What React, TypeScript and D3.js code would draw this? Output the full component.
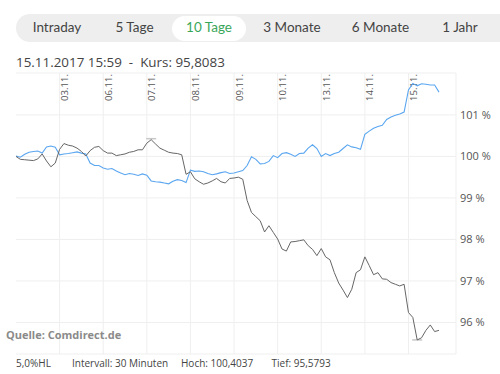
import React from "react";
import * as d3 from "d3";

const tabs = ["Intraday", "5 Tage", "10 Tage", "3 Monate", "6 Monate", "1 Jahr"];
const activeTab = "10 Tage";
const title = "15.11.2017 15:59  -  Kurs: 95,8083";
const dayLabels = ["02.11.", "03.11.", "06.11.", "07.11.", "08.11.", "09.11.", "10.11.", "13.11.", "14.11.", "15.11."];
const yTicks = [96, 97, 98, 99, 100, 101];
const stepDays = 0.1; // sample spacing in trading days
const footer = ["5,0%HL", "Intervall: 30 Minuten", "Hoch: 100,4037", "Tief: 95,5793"];
const source = "Quelle: Comdirect.de";

// comparison (blue), in % of start
const indexValues = [
  100.01, 99.98, 100.05, 100.10, 100.12, 100.13, 100.08, 100.23, 100.25, 100.22,
  100.04, 100.06, 100.07, 100.09, 100.11, 100.08, 100.06, 99.84, 99.78, 99.78,
  99.72, 99.69, 99.71, 99.65, 99.60, 99.56, 99.59, 99.57, 99.54, 99.58,
  99.55, 99.41, 99.39, 99.38, 99.36, 99.34, 99.40, 99.44, 99.42, 99.37,
  99.67, 99.64, 99.65, 99.63, 99.59, 99.56, 99.58, 99.61, 99.63, 99.59,
  99.60, 99.63, 99.66, 99.78, 99.99, 99.93, 99.82, 99.83, 99.88, 100.02,
  99.97, 100.07, 100.09, 100.05, 100.00, 100.07, 100.08, 100.20, 100.28, 100.19,
  100.00, 100.07, 100.02, 100.07, 100.10, 100.19, 100.28, 100.23, 100.21, 100.17,
  100.53, 100.61, 100.68, 100.72, 100.75, 100.89, 100.95, 100.99, 101.02, 101.07,
  101.60, 101.76, 101.70, 101.75, 101.74, 101.72, 101.72, 101.55,
];

// stock (gray), in % of start
const stockValues = [
  100.00, 99.93, 99.92, 99.91, 99.90, 99.94, 100.06, 99.89, 99.75, 99.84,
  100.17, 100.31, 100.27, 100.25, 100.20, 100.12, 100.01, 100.14, 100.22, 100.24,
  100.14, 100.08, 100.08, 100.02, 100.04, 100.06, 100.10, 100.12, 100.16, 100.16,
  100.32, 100.4037, 100.30, 100.20, 100.15, 100.10, 100.08, 100.07, 100.04, 99.57,
  99.63, 99.46, 99.39, 99.33, 99.36, 99.41, 99.47, 99.39, 99.36, 99.47,
  99.48, 99.50, 99.45, 98.94, 98.65, 98.55, 98.45, 98.18, 98.33, 98.17,
  98.01, 97.77, 97.72, 97.94, 97.95, 97.97, 97.99, 97.85, 97.76, 97.61,
  97.78, 97.58, 97.51, 97.20, 96.95, 96.78, 96.60, 96.80, 97.20, 97.27,
  97.58, 97.37, 97.15, 97.20, 97.05, 97.04, 96.96, 96.92, 96.88, 96.92,
  96.24, 96.12, 95.5793, 95.63, 95.81, 95.94, 95.78, 95.81,
];

export default function App() {
  const W = 500, H = 374;
  const left = 16, right = 456, top = 73, bottom = 354;
  const x = d3.scaleLinear().domain([0, 10.09]).range([left, right]);
  const y = d3.scaleLinear().domain([95.24, 102.01]).range([bottom, top]);
  const line = d3
    .line<number>()
    .x((_, i) => x(i * stepDays))
    .y((d) => y(d));

  const hiIdx = d3.maxIndex(stockValues);
  const loIdx = d3.minIndex(stockValues);

  const tabCenters = [57, 134.5, 209, 292, 380.5, 460];
  const chartFont = "'Open Sans', 'DejaVu Sans', sans-serif";

  return (
    <svg width={W} height={H} style={{ position: "absolute", left: 0, top: 0, background: "#fff" }}>
      {/* tab bar */}
      <rect x={16} y={14} width={520} height={28} rx={14} fill="#eeeeee" />
      {tabs.map((t, i) =>
        t === activeTab ? (
          <rect key={"a" + i} x={tabCenters[i] - 37} y={16} width={74} height={25} rx={12.5} fill="#fff" />
        ) : null
      )}
      {tabs.map((t, i) => (
        <text
          key={t}
          x={tabCenters[i]}
          y={29}
          textAnchor="middle"
          dominantBaseline="middle"
          fontFamily="Lato, 'Open Sans', sans-serif"
          fontSize={13.5}
          fill={t === activeTab ? "#3aa65a" : "#444"}
        >
          {t}
        </text>
      ))}

      {/* title */}
      <text x={16} y={67} fontFamily={chartFont} fontSize={13.4} fill="#444" style={{ whiteSpace: "pre" }}>
        {title}
      </text>

      {/* grid */}
      <line x1={left} x2={right} y1={top} y2={top} stroke="#efefef" />
      <line x1={left} x2={right} y1={bottom} y2={bottom} stroke="#efefef" />
      <line x1={right} x2={right} y1={top} y2={bottom} stroke="#efefef" />
      {yTicks.map((t) => (
        <line key={"h" + t} x1={left} x2={right} y1={y(t)} y2={y(t)} stroke="#efefef" />
      ))}
      {dayLabels.slice(1).map((d, i) => (
        <line key={"v" + d} x1={x(i + 1)} x2={x(i + 1)} y1={top} y2={bottom} stroke="#efefef" />
      ))}

      {/* y labels */}
      {yTicks.map((t) => (
        <text key={"yl" + t} x={460} y={y(t)} dy="0.35em" fontFamily={chartFont} fontSize={11} fill="#555">
          {`${t} %`}
        </text>
      ))}

      {/* day labels */}
      {dayLabels.slice(1).map((d, i) => (
        <text
          key={"dl" + d}
          transform={`translate(${x(i + 1) + 8.5},74) rotate(-90)`}
          textAnchor="end"
          fontFamily={chartFont}
          fontSize={9.6}
          fill="#555"
        >
          {d}
        </text>
      ))}

      {/* hi / lo markers */}
      <line x1={x(hiIdx * stepDays) - 5} x2={x(hiIdx * stepDays) + 5} y1={y(stockValues[hiIdx]) - 1} y2={y(stockValues[hiIdx]) - 1} stroke="#c8c8c8" strokeWidth={1.5} />
      <line x1={x(loIdx * stepDays) - 5} x2={x(loIdx * stepDays) + 5} y1={y(stockValues[loIdx])} y2={y(stockValues[loIdx])} stroke="#c8c8c8" strokeWidth={1.5} />

      {/* series */}
      <path d={line(indexValues) || ""} fill="none" stroke="#5aa6f0" strokeWidth={1.1} />
      <path d={line(stockValues) || ""} fill="none" stroke="#666" strokeWidth={1} />

      {/* source */}
      <text x={6} y={339} fontFamily={chartFont} fontSize={11} fontWeight="bold" fill="#8a8a8a">
        {source}
      </text>

      {/* footer */}
      {footer.map((f, i) => (
        <text key={f} x={[16, 72, 181, 271.5][i]} y={367} fontFamily={chartFont} fontSize={10} fill="#444">
          {f}
        </text>
      ))}
    </svg>
  );
}
